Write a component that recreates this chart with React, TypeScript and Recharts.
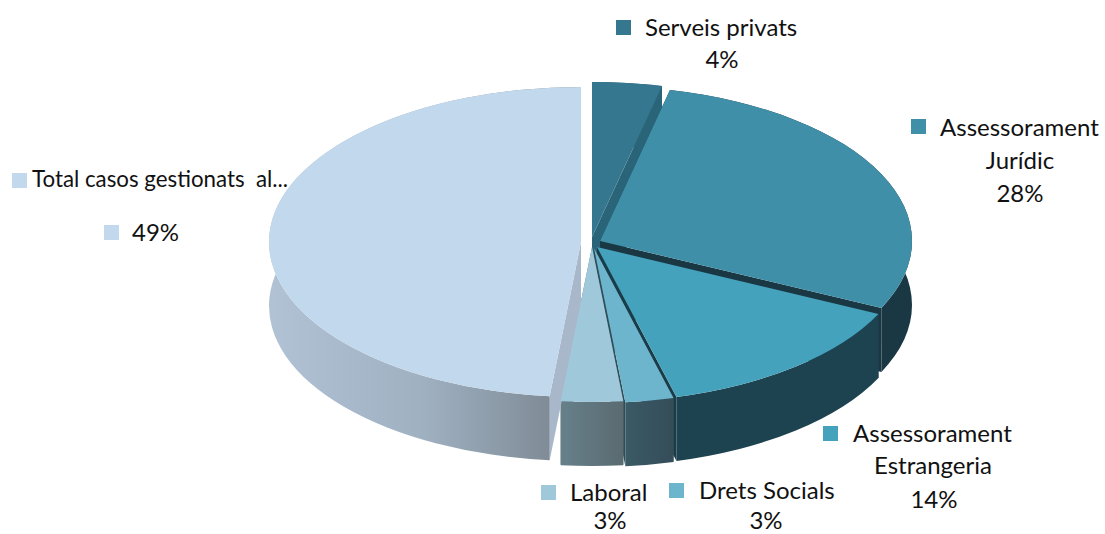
import { PieChart, Pie } from "recharts";

const sliceNames = [
  "Serveis privats",
  "Assessorament Jurídic",
  "Assessorament Estrangeria",
  "Drets Socials",
  "Laboral",
  "Total casos gestionats al...",
];
// share of the drawn ellipse (the printed % are below)
const sliceShares = [3.6, 28.5, 13.8, 2.5, 3.2, 48.4];
const percentLabels = ["4%", "28%", "14%", "3%", "3%", "49%"];
const labelLines = [
  ["Serveis privats"],
  ["Assessorament", "Jurídic"],
  ["Assessorament", "Estrangeria"],
  ["Drets Socials"],
  ["Laboral"],
  ["Total casos gestionats  al..."],
];

const topColors = ["#35778f", "#3f8fa8", "#45a2bd", "#6db4cd", "#9fc9da", "#c2d8ec"];
const cutColors = ["#2a6479", "#193843", "#1a3c48", "#2e4e5a", "#5a6a70", "#a8b7c9"];
const wallFills = [
  "#2a6479",
  "#1a3844",
  "#1d4350",
  "url(#wallDrets)",
  "url(#wallLaboral)",
  "url(#wallTotal)",
];

const CX = 592;
const CY = 242;
const RX = 312;
const RY = 155;
const DEPTH = 64;

// how far each slice is pulled out of the centre
const explode = [
  [0, -5],
  [8, -1],
  [5, 5],
  [2, 6],
  [0, 5],
  [-11, 0],
];

// swatch x/y, then x/baseline/anchor per text row (last row is the percentage)
const labelLayout: { swatch: number[]; rows: [number, number, string][] }[] = [
  { swatch: [616, 20], rows: [[645, 36, "start"], [722, 68, "middle"]] },
  { swatch: [911, 119], rows: [[940, 136, "start"], [1020, 169, "middle"], [1020, 202, "middle"]] },
  { swatch: [823, 426], rows: [[853, 442, "start"], [933, 474, "middle"], [934, 508, "middle"]] },
  { swatch: [669, 483], rows: [[699, 499, "start"], [766, 529, "middle"]] },
  { swatch: [541, 485], rows: [[570, 501, "start"], [610, 529, "middle"]] },
  { swatch: [12, 173], rows: [[32, 187, "start"], [132, 241, "start"]] },
];

const data = sliceNames.map((name, i) => ({ name, value: sliceShares[i] }));

const point = (i: number, angle: number, drop = 0) => {
  const rad = (angle * Math.PI) / 180;
  return [
    CX + explode[i][0] + RX * Math.cos(rad),
    CY + explode[i][1] - RY * Math.sin(rad) + drop,
  ];
};

const apex = (i: number, drop = 0) => [CX + explode[i][0], CY + explode[i][1] + drop];

const arcTo = (i: number, start: number, end: number, drop: number, sweep: number) => {
  const [x, y] = point(i, end, drop);
  const large = Math.abs(end - start) > 180 ? 1 : 0;
  return `A${RX} ${RY} 0 ${large} ${sweep} ${x} ${y}`;
};

const TopFace = (props: any) => {
  const i = sliceNames.indexOf(props.name);
  const { startAngle, endAngle } = props;
  const [ax, ay] = apex(i);
  const [sx, sy] = point(i, startAngle);
  return (
    <path
      d={`M${ax} ${ay}L${sx} ${sy}${arcTo(i, startAngle, endAngle, 0, 1)}Z`}
      fill={topColors[i]}
    />
  );
};

const Wall = (props: any) => {
  const i = sliceNames.indexOf(props.name);
  const { startAngle, endAngle } = props;
  const [ax, ay] = apex(i);
  const [bx, by] = apex(i, DEPTH);
  const s = point(i, startAngle);
  const e = point(i, endAngle);
  const sd = point(i, startAngle, DEPTH);
  const ed = point(i, endAngle, DEPTH);
  return (
    <g>
      <path d={`M${ax} ${ay}L${s[0]} ${s[1]}L${sd[0]} ${sd[1]}L${bx} ${by}Z`} fill={cutColors[i]} />
      <path d={`M${ax} ${ay}L${e[0]} ${e[1]}L${ed[0]} ${ed[1]}L${bx} ${by}Z`} fill={cutColors[i]} />
      <path
        d={`M${s[0]} ${s[1]}${arcTo(i, startAngle, endAngle, 0, 1)}L${ed[0]} ${ed[1]}${arcTo(
          i,
          endAngle,
          startAngle,
          DEPTH,
          0
        )}Z`}
        fill={wallFills[i]}
      />
    </g>
  );
};

const SliceLabel = (props: any) => {
  const i = sliceNames.indexOf(props.name);
  const { swatch, rows } = labelLayout[i];
  const texts = [...labelLines[i], percentLabels[i]];
  return (
    <g>
      <rect x={swatch[0]} y={swatch[1]} width={15} height={15} fill={topColors[i]} />
      {i === 5 && <rect x={104} y={225} width={15} height={15} fill={topColors[i]} />}
      {texts.map((t, r) => (
        <text
          key={r}
          x={rows[r][0]}
          y={rows[r][1]}
          textAnchor={rows[r][2] as any}
          fontFamily="Lato, sans-serif"
          fontSize={i === 5 && r === 0 ? 22.3 : 24}
          fill="#111"
          style={{ whiteSpace: "pre" }}
        >
          {t}
        </text>
      ))}
    </g>
  );
};

export default function App() {
  return (
    <div style={{ position: "absolute", left: 0, top: 0, width: 1105, height: 534, background: "#fff" }}>
      <PieChart width={1105} height={534} margin={{ top: 0, right: 0, bottom: 0, left: 0 }}>
        <defs>
          <linearGradient id="wallTotal" gradientUnits="userSpaceOnUse" x1={269} y1={0} x2={552} y2={0}>
            <stop offset="0" stopColor="#b0c2d4" />
            <stop offset="0.55" stopColor="#9fb0c1" />
            <stop offset="1" stopColor="#7f8b96" />
          </linearGradient>
          <linearGradient id="wallLaboral" gradientUnits="userSpaceOnUse" x1={561} y1={0} x2={625} y2={0}>
            <stop offset="0" stopColor="#66808a" />
            <stop offset="1" stopColor="#5a6a70" />
          </linearGradient>
          <linearGradient id="wallDrets" gradientUnits="userSpaceOnUse" x1={625} y1={0} x2={677} y2={0}>
            <stop offset="0" stopColor="#3a5a66" />
            <stop offset="1" stopColor="#344c58" />
          </linearGradient>
        </defs>
        <Pie
          data={data}
          dataKey="value"
          cx={CX}
          cy={CY}
          outerRadius={RX}
          startAngle={90}
          endAngle={-270}
          stroke="none"
          shape={Wall}
          label={false}
          labelLine={false}
          isAnimationActive={false}
        />
        <Pie
          data={data}
          dataKey="value"
          cx={CX}
          cy={CY}
          outerRadius={RX}
          startAngle={90}
          endAngle={-270}
          stroke="none"
          shape={TopFace}
          label={SliceLabel}
          labelLine={false}
          isAnimationActive={false}
        />
      </PieChart>
    </div>
  );
}
